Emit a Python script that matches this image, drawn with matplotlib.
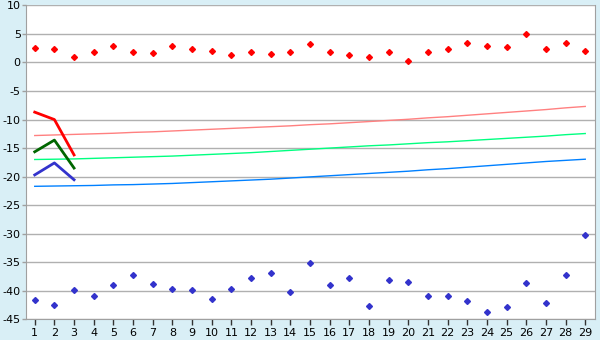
import matplotlib
matplotlib.use("Agg")
import matplotlib.pyplot as plt

plt.rcParams["axes.unicode_minus"] = False

x = list(range(1, 30))

# scattered points
top_pts = [2.6, 2.45, 1.05, 1.9, 2.95, 1.9, 1.75, 2.95, 2.3, 2.1,
           1.4, 1.9, 1.55, 1.9, 3.3, 1.9, 1.4, 1.05, 1.9, 0.35,
           1.9, 2.45, 3.5, 2.95, 2.8, 5.05, 2.3, 3.5, 2.1]
bottom_pts = [-41.7, -42.55, -39.9, -41.0, -39.05, -37.3, -38.9, -39.75, -39.9, -41.5,
              -39.75, -37.8, -36.95, -40.3, -35.2, -39.05, -37.8, -42.7, -38.2, -38.5,
              -41.0, -41.0, -41.85, -43.8, -42.9, -38.7, -42.2, -37.3, -30.3]

# thin trend lines
pink_line = [-12.8, -12.7, -12.6, -12.5, -12.4, -12.25, -12.15, -12.0, -11.85, -11.7,
             -11.55, -11.4, -11.25, -11.1, -10.9, -10.75, -10.55, -10.35, -10.15, -9.95,
             -9.7, -9.5, -9.25, -9.0, -8.75, -8.5, -8.25, -7.95, -7.7]
green_line = [-17.0, -16.95, -16.9, -16.8, -16.7, -16.6, -16.5, -16.4, -16.25, -16.1,
              -15.95, -15.8, -15.6, -15.4, -15.2, -15.0, -14.8, -14.6, -14.45, -14.25,
              -14.05, -13.9, -13.7, -13.5, -13.3, -13.1, -12.9, -12.65, -12.45]
blue_line = [-21.7, -21.65, -21.6, -21.55, -21.45, -21.4, -21.3, -21.2, -21.05, -20.9,
             -20.75, -20.6, -20.45, -20.25, -20.05, -19.85, -19.65, -19.45, -19.25, -19.05,
             -18.8, -18.6, -18.35, -18.1, -17.85, -17.6, -17.35, -17.15, -16.95]

# short thick lines
x_short = [1, 2, 3]
red_short = [-8.7, -10.0, -16.2]
green_short = [-15.65, -13.6, -18.5]
blue_short = [-19.7, -17.6, -20.55]

bg = "#d9eff6"
fig = plt.figure(figsize=(6, 3.4), dpi=100, facecolor=bg)
ax = fig.add_axes([0.0438, 0.061, 0.948, 0.923])
ax.set_facecolor("white")

for yv in range(-45, 11, 5):
    ax.axhline(yv, color="#b0b0b0", lw=1, zorder=1)

ax.plot(x, pink_line, color="#ff8080", lw=1, zorder=2)
ax.plot(x, green_line, color="#00ff80", lw=1, zorder=2)
ax.plot(x, blue_line, color="#0080ff", lw=1, zorder=2)

ax.plot(x_short, red_short, color="#ff0000", lw=2, zorder=3)
ax.plot(x_short, green_short, color="#006600", lw=2, zorder=3)
ax.plot(x_short, blue_short, color="#3333cc", lw=2, zorder=3)

ax.plot(x, top_pts, ls="none", marker="D", ms=3, color="#ff0000", zorder=4)
ax.plot(x, bottom_pts, ls="none", marker="D", ms=3, color="#3333cc", zorder=4)

ax.set_xlim(0.57, 29.5)
ax.set_ylim(-45, 10)
ax.set_xticks(x)
ax.set_yticks(range(-45, 11, 5))
ax.tick_params(axis="x", length=4, width=1, color="#333333", labelsize=8, pad=2)
ax.tick_params(axis="y", length=3, width=1, color="#a0a0a0", labelsize=8, pad=1)

for s in ["left", "right", "bottom"]:
    ax.spines[s].set_color("#a0a0a0")
ax.spines["top"].set_visible(False)

fig.savefig("out.png", dpi=100, facecolor=bg)
